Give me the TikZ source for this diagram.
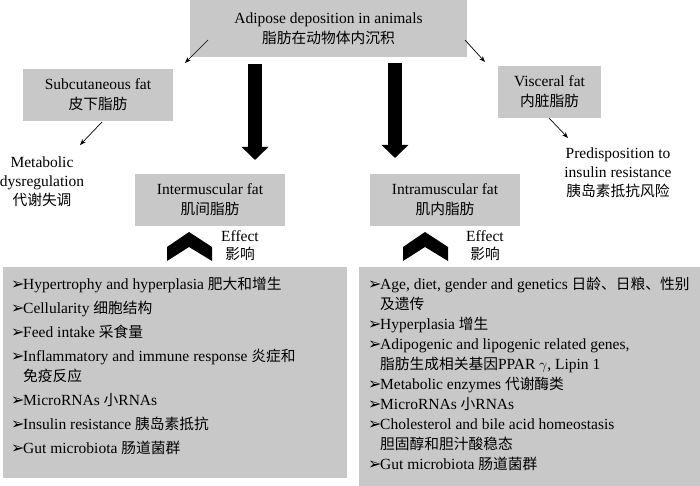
\documentclass[tikz,border=0pt]{standalone}
\usepackage{fontspec}
\setmainfont{Liberation Serif}
\newfontfamily\cjk[Scale=0.95]{Noto Sans CJK SC}
\newfontfamily\dingfont{DejaVu Sans}
\usepackage{tikz}
\usetikzlibrary{arrows.meta}
\definecolor{boxgray}{RGB}{200,200,200}
\def\zh#1{{\cjk #1}}
\def\itm{\makebox[12pt][l]{\dingfont\fontsize{16}{16}\selectfont ➢}}
\def\ind{\hspace*{12pt}}
\def\chevron(#1,#2){\fill[shift={(#1,#2)}] (-22,15) -- (0,0) -- (23,15) -- (23,29) -- (0,15) -- (-22,29) -- cycle;}
\tikzset{
	fatbox/.style={fill=boxgray, inner sep=0pt, align=center, font=\fontsize{15.5}{20}\selectfont},
	plaintext/.style={inner sep=0pt, align=center, font=\fontsize{15.5}{19}\selectfont},
	listtext/.style={anchor=north west, inner sep=0pt, align=left, font=\fontsize{15.5}{19.5}\selectfont},
	thinarrow/.style={line width=0.7pt, -{Stealth[length=6pt,width=4.5pt]}},
	bigarrow/.style={line width=14pt, -{Triangle[length=13pt,width=26pt]}},
}

\begin{document}
\begin{tikzpicture}[x=1pt, y=-1pt]
		%%%%% START %%%%%
		\useasboundingbox (0,0) rectangle (700,486);
		
		\node[fatbox, minimum width=277pt, minimum height=57pt] (deposit) at (328.5, 28.5) {Adipose deposition in animals\\\zh{脂肪在动物体内沉积}};
		\node[fatbox, minimum width=150pt, minimum height=52pt] (subcut) at (98, 95) {Subcutaneous fat\\\zh{皮下脂肪}};
		\node[fatbox, minimum width=103pt, minimum height=52pt] (visceral) at (549.5, 92) {Visceral fat\\\zh{内脏脂肪}};
		\node[fatbox, minimum width=150pt, minimum height=52pt] (inter) at (210, 200) {Intermuscular fat\\\zh{肌间脂肪}};
		\node[fatbox, minimum width=150pt, minimum height=52pt] (intra) at (445, 200) {Intramuscular fat\\\zh{肌内脂肪}};
		
		\node[plaintext] (metab) at (42, 182) {Metabolic\\dysregulation\\\zh{代谢失调}};
		\node[plaintext] (predis) at (618, 173) {Predisposition to\\insulin resistance\\\zh{胰岛素抵抗风险}};
		
		% small arrows
		\coordinate (dep sw) at (208, 40);
		\coordinate (dep se) at (465, 40);
		\coordinate (sub out) at (102, 122);
		\coordinate (vis out) at (549, 118);
		\coordinate (sub in) at (185, 63);
		\coordinate (vis in) at (485, 62);
		\coordinate (metab in) at (80, 145);
		\coordinate (predis in) at (568, 138);
		\draw[thinarrow] (dep sw) -- (sub in);
		\draw[thinarrow] (dep se) -- (vis in);
		\draw[thinarrow] (sub out) -- (metab in);
		\draw[thinarrow] (vis out) -- (predis in);
		
		% big arrows
		\coordinate (inter top) at (255, 64);
		\coordinate (inter tip) at (255, 160);
		\coordinate (intra top) at (395, 63);
		\coordinate (intra tip) at (395, 158);
		\draw[bigarrow] (inter top) -- (inter tip);
		\draw[bigarrow] (intra top) -- (intra tip);
		
		% effect
		\chevron(189,232)
		\chevron(425,232)
		\node[plaintext, font=\fontsize{15.5}{18}\selectfont] (inter effect) at (240, 246) {Effect\\\zh{影响}};
		\node[plaintext, font=\fontsize{15.5}{18}\selectfont] (intra effect) at (485, 246) {Effect\\\zh{影响}};
		
		% lists
		\fill[boxgray] (3, 267) rectangle (347, 478);
		\node[listtext] (inter list) at (11, 277) {%
			\itm Hypertrophy and hyperplasia \zh{肥大和增生}\\[4.5pt]
			\itm Cellularity \zh{细胞结构}\\[4.5pt]
			\itm Feed intake \zh{采食量}\\[4.5pt]
			\itm Inflammatory and immune response \zh{炎症和}\\
			\ind\zh{免疫反应}\\[4.5pt]
			\itm MicroRNAs \zh{小}RNAs\\[4.5pt]
			\itm Insulin resistance \zh{胰岛素抵抗}\\[4.5pt]
			\itm Gut microbiota \zh{肠道菌群}};
		
		\fill[boxgray] (359, 267) rectangle (700, 486);
		\node[listtext, font=\fontsize{15.5}{20}\selectfont] (intra list) at (368, 277) {%
			\itm Age, diet, gender and genetics \zh{日龄、日粮、性别}\\
			\ind\zh{及遗传}\\
			\itm Hyperplasia \zh{增生}\\
			\itm Adipogenic and lipogenic related genes,\\
			\ind\zh{脂肪生成相关基因}PPAR $\gamma$, Lipin 1\\
			\itm Metabolic enzymes \zh{代谢酶类}\\
			\itm MicroRNAs \zh{小}RNAs\\
			\itm Cholesterol and bile acid homeostasis\\
			\ind\zh{胆固醇和胆汁酸稳态}\\
			\itm Gut microbiota \zh{肠道菌群}};
		
		%%%%% END %%%%%
\end{tikzpicture}
\end{document}
